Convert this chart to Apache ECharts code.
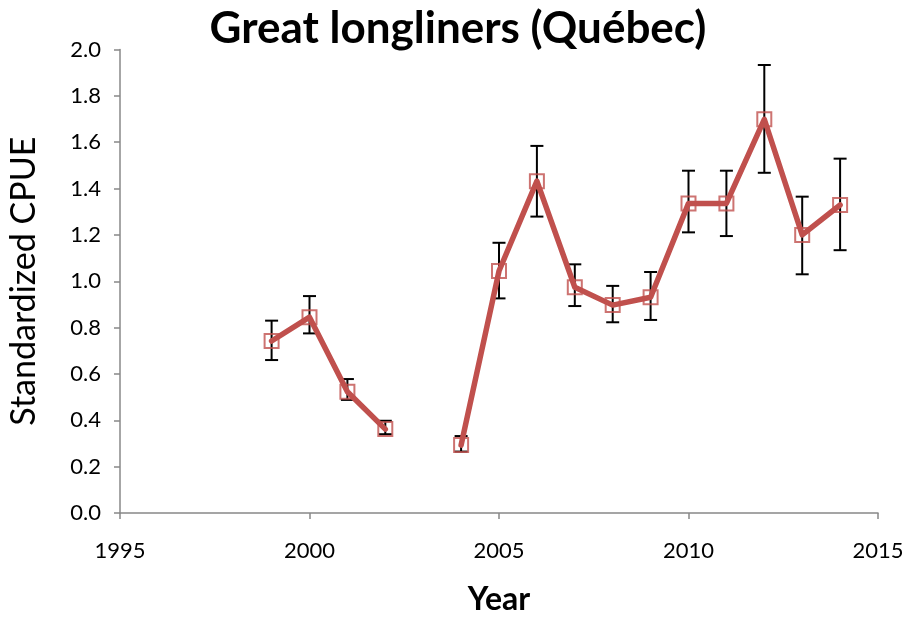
<!DOCTYPE html>
<html>
<head>
<meta charset="utf-8">
<script src="https://cdn.jsdelivr.net/npm/echarts@6/dist/echarts.min.js"></script>
<style>html,body{margin:0;padding:0;background:#fff}#c{width:907px;height:617px}</style>
</head>
<body>
<div id="c"></div>
<script>
var years = [1999, 2000, 2001, 2002, 2003, 2004, 2005, 2006, 2007, 2008, 2009, 2010, 2011, 2012, 2013, 2014];
var cpue  = [0.742, 0.845, 0.523, 0.362, null, 0.293, 1.044, 1.432, 0.974, 0.897, 0.931, 1.336, 1.336, 1.699, 1.200, 1.329];
var lower = [0.660, 0.775, 0.488, 0.340, null, 0.265, 0.926, 1.279, 0.893, 0.823, 0.833, 1.211, 1.195, 1.468, 1.030, 1.134];
var upper = [0.830, 0.936, 0.578, 0.398, null, 0.332, 1.166, 1.584, 1.073, 0.980, 1.040, 1.477, 1.477, 1.933, 1.365, 1.529];
var xTicks = [1995, 2000, 2005, 2010, 2015];

var lineData = years.map(function (y, i) { return [y, cpue[i] === null ? '-' : cpue[i]]; });
var pointData = [];
var errData = [];
years.forEach(function (y, i) {
  if (cpue[i] !== null) {
    pointData.push([y, cpue[i]]);
    errData.push([y, lower[i], upper[i]]);
  }
});

var red = '#c0504d';
var font = 'Lato, "Open Sans", sans-serif';
var chart = echarts.init(document.getElementById('c'));
chart.setOption({
  animation: false,
  backgroundColor: '#fff',
  title: {
    text: 'Great longliners (Québec)',
    left: 453, top: 2, textAlign: 'center',
    textStyle: { fontFamily: font, fontWeight: 'bold', fontSize: 44, color: '#000' }
  },
  grid: { left: 120, right: 29, top: 49.5, bottom: 104, outerBoundsMode: 'none', containLabel: false },
  xAxis: {
    type: 'value', min: xTicks[0], max: xTicks[xTicks.length - 1], interval: 5,
    name: 'Year', nameLocation: 'middle', nameGap: 71,
    nameTextStyle: { fontFamily: font, fontWeight: 'bold', fontSize: 32, color: '#000' },
    axisLine: { show: true, lineStyle: { color: '#888', width: 1.5 } },
    axisTick: { show: true, length: 6, lineStyle: { color: '#888', width: 1.5 } },
    axisLabel: { margin: 27, fontFamily: font, fontSize: 22, color: '#000',
      formatter: function (v) { return String(v); } },
    splitLine: { show: false }
  },
  yAxis: {
    type: 'value', min: 0, max: 2, interval: 0.2,
    name: 'Standardized CPUE', nameLocation: 'middle', nameGap: 79, nameRotate: 90,
    nameTextStyle: { fontFamily: font, fontSize: 34, color: '#000' },
    axisLine: { show: true, lineStyle: { color: '#888', width: 1.5 } },
    axisTick: { show: true, length: 6, lineStyle: { color: '#888', width: 1.5 } },
    axisLabel: { margin: 19, fontFamily: font, fontSize: 22, color: '#000',
      formatter: function (v) { return v.toFixed(1); } },
    splitLine: { show: false }
  },
  series: [
    {
      type: 'custom', z: 1,
      data: errData,
      encode: { x: 0, y: [1, 2] },
      renderItem: function (params, api) {
        var x = api.value(0);
        var lo = api.coord([x, api.value(1)]);
        var hi = api.coord([x, api.value(2)]);
        var w = 6.5;
        var st = { stroke: '#000', lineWidth: 2 };
        return {
          type: 'group',
          children: [
            { type: 'line', shape: { x1: lo[0], y1: lo[1], x2: hi[0], y2: hi[1] }, style: st },
            { type: 'line', shape: { x1: lo[0] - w, y1: lo[1], x2: lo[0] + w, y2: lo[1] }, style: st },
            { type: 'line', shape: { x1: hi[0] - w, y1: hi[1], x2: hi[0] + w, y2: hi[1] }, style: st }
          ]
        };
      }
    },
    {
      type: 'line', z: 2,
      data: lineData,
      connectNulls: false,
      showSymbol: false,
      lineStyle: { color: red, width: 5.5, cap: 'round', join: 'round' },
      itemStyle: { color: red }
    },
    {
      type: 'scatter', z: 3,
      data: pointData,
      symbol: 'rect', symbolSize: 14,
      itemStyle: { color: 'rgba(0,0,0,0)', borderColor: red, borderWidth: 2 }
    }
  ]
});
</script>
</body>
</html>
